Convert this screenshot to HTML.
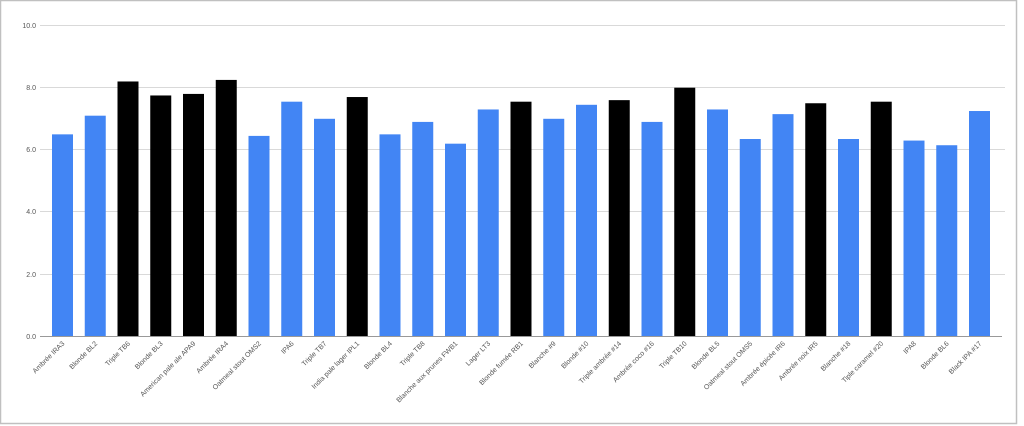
<!DOCTYPE html>
<html><head><style>
html,body{margin:0;padding:0;background:#fff;}
svg{display:block;font-family:"Liberation Sans",Arial,sans-serif;}
</style></head><body>
<svg width="1024" height="426" viewBox="0 0 1024 426" xmlns="http://www.w3.org/2000/svg">
<rect x="0.5" y="0.5" width="1016" height="423" fill="#fff" stroke="#c0c0c0" stroke-width="1.5"/>
<g stroke="#d9d9d9" stroke-width="1">
<line x1="40" x2="1005" y1="25.5" y2="25.5"/>
<line x1="40" x2="1005" y1="87.5" y2="87.5"/>
<line x1="40" x2="1005" y1="149.5" y2="149.5"/>
<line x1="40" x2="1005" y1="211.5" y2="211.5"/>
<line x1="40" x2="1005" y1="274.5" y2="274.5"/>
</g>
<g font-size="7" fill="#555" text-anchor="end">
<text x="36" y="28">10.0</text>
<text x="36" y="90">8.0</text>
<text x="36" y="152">6.0</text>
<text x="36" y="214">4.0</text>
<text x="36" y="277">2.0</text>
<text x="36" y="339">0.0</text>
</g>
<g fill="#4285f4">
<rect x="52" y="134.35" width="21" height="202.15"/>
<rect x="84.75" y="115.69" width="21" height="220.81"/>
<rect x="117.5" y="81.48" width="21" height="255.02" fill="#000"/>
<rect x="150.25" y="95.47" width="21" height="241.03" fill="#000"/>
<rect x="183" y="93.92" width="21" height="242.58" fill="#000"/>
<rect x="215.75" y="79.92" width="21" height="256.58" fill="#000"/>
<rect x="248.5" y="135.9" width="21" height="200.6"/>
<rect x="281.25" y="101.69" width="21" height="234.81"/>
<rect x="314" y="118.8" width="21" height="217.7"/>
<rect x="346.75" y="97.03" width="21" height="239.47" fill="#000"/>
<rect x="379.5" y="134.35" width="21" height="202.15"/>
<rect x="412.25" y="121.91" width="21" height="214.59"/>
<rect x="445" y="143.68" width="21" height="192.82"/>
<rect x="477.75" y="109.47" width="21" height="227.03"/>
<rect x="510.5" y="101.69" width="21" height="234.81" fill="#000"/>
<rect x="543.25" y="118.8" width="21" height="217.7"/>
<rect x="576" y="104.8" width="21" height="231.7"/>
<rect x="608.75" y="100.14" width="21" height="236.36" fill="#000"/>
<rect x="641.5" y="121.91" width="21" height="214.59"/>
<rect x="674.25" y="87.7" width="21" height="248.8" fill="#000"/>
<rect x="707" y="109.47" width="21" height="227.03"/>
<rect x="739.75" y="139.01" width="21" height="197.49"/>
<rect x="772.5" y="114.13" width="21" height="222.37"/>
<rect x="805.25" y="103.25" width="21" height="233.25" fill="#000"/>
<rect x="838" y="139.01" width="21" height="197.49"/>
<rect x="870.75" y="101.69" width="21" height="234.81" fill="#000"/>
<rect x="903.5" y="140.57" width="21" height="195.93"/>
<rect x="936.25" y="145.23" width="21" height="191.27"/>
<rect x="969" y="111.02" width="21" height="225.48"/>
</g>
<line x1="40" x2="1002" y1="336.5" y2="336.5" stroke="#999" stroke-width="1"/>
<g font-size="7" fill="#555" text-anchor="end">
<text x="65" y="344" transform="rotate(-45 65 344)">Ambrée IRA3</text>
<text x="97.75" y="344" transform="rotate(-45 97.75 344)">Blonde BL2</text>
<text x="130.5" y="344" transform="rotate(-45 130.5 344)">Triple TB6</text>
<text x="163.25" y="344" transform="rotate(-45 163.25 344)">Blonde BL3</text>
<text x="196" y="344" transform="rotate(-45 196 344)">American pale ale APA9</text>
<text x="228.75" y="344" transform="rotate(-45 228.75 344)">Ambrée IRA4</text>
<text x="261.5" y="344" transform="rotate(-45 261.5 344)">Oatmeal stout OMS2</text>
<text x="294.25" y="344" transform="rotate(-45 294.25 344)">IPA6</text>
<text x="327" y="344" transform="rotate(-45 327 344)">Triple TB7</text>
<text x="359.75" y="344" transform="rotate(-45 359.75 344)">India pale lager IPL1</text>
<text x="392.5" y="344" transform="rotate(-45 392.5 344)">Blonde BL4</text>
<text x="425.25" y="344" transform="rotate(-45 425.25 344)">Triple TB8</text>
<text x="458" y="344" transform="rotate(-45 458 344)">Blanche aux prunes FWB1</text>
<text x="490.75" y="344" transform="rotate(-45 490.75 344)">Lager LT3</text>
<text x="523.5" y="344" transform="rotate(-45 523.5 344)">Blonde fumée RB1</text>
<text x="556.25" y="344" transform="rotate(-45 556.25 344)">Blanche #9</text>
<text x="589" y="344" transform="rotate(-45 589 344)">Blonde #10</text>
<text x="621.75" y="344" transform="rotate(-45 621.75 344)">Triple ambrée #14</text>
<text x="654.5" y="344" transform="rotate(-45 654.5 344)">Ambrée coco #16</text>
<text x="687.25" y="344" transform="rotate(-45 687.25 344)">Triple TB10</text>
<text x="720" y="344" transform="rotate(-45 720 344)">Blonde BL5</text>
<text x="752.75" y="344" transform="rotate(-45 752.75 344)">Oatmeal stout OMS5</text>
<text x="785.5" y="344" transform="rotate(-45 785.5 344)">Ambrée épicée IR6</text>
<text x="818.25" y="344" transform="rotate(-45 818.25 344)">Ambrée noix IR5</text>
<text x="851" y="344" transform="rotate(-45 851 344)">Blanche #18</text>
<text x="883.75" y="344" transform="rotate(-45 883.75 344)">Tiple caramel #20</text>
<text x="916.5" y="344" transform="rotate(-45 916.5 344)">IPA8</text>
<text x="949.25" y="344" transform="rotate(-45 949.25 344)">Blonde BL6</text>
<text x="982" y="344" transform="rotate(-45 982 344)">Black IPA #17</text>
</g>
</svg>
</body></html>
